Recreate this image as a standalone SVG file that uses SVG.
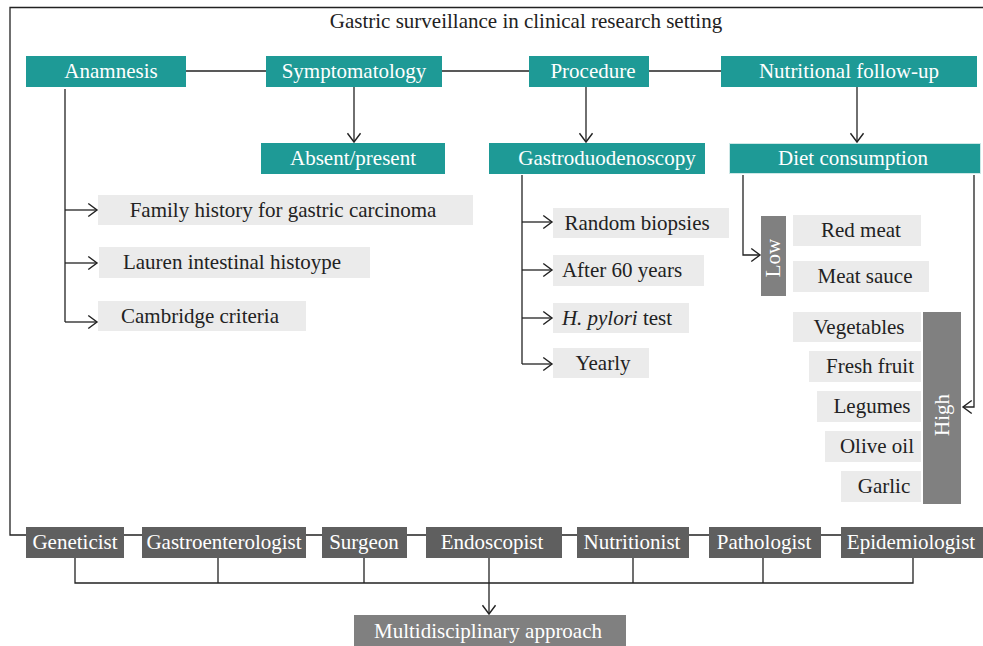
<svg xmlns="http://www.w3.org/2000/svg" width="983" height="646" viewBox="0 0 983 646">
<defs>
<marker id="arr" markerUnits="userSpaceOnUse" markerWidth="12" markerHeight="16" viewBox="-1 -7 11 14" refX="8" refY="0" orient="auto">
<path d="M0,-6 L8,0 L0,6" fill="none" stroke="#222" stroke-width="1.3"/>
</marker>
</defs>
<style>
text{font-family:"Liberation Serif","Times New Roman",serif;font-size:21px}
.teal{fill:#1e9a96}
.tt{fill:#ffffff;text-anchor:middle}
.item{fill:#ebebeb}
.it{fill:#222;text-anchor:middle}
.dark{fill:#5f5f5f}
.mid{fill:#808080}
.ln{fill:none;stroke:#222;stroke-width:1.3}
</style>
<rect width="983" height="646" fill="#ffffff"/>
<g id="connectors">
<path class="ln" d="M983,7.5 H10 V535 H841"/>
<path class="ln" d="M186,71 H721"/>
<path class="ln" d="M354,87 V142" marker-end="url(#arr)"/>
<path class="ln" d="M586,87 V142" marker-end="url(#arr)"/>
<path class="ln" d="M857,87 V142" marker-end="url(#arr)"/>
<path class="ln" d="M65,89 V322"/>
<path class="ln" d="M65,210 H97" marker-end="url(#arr)"/>
<path class="ln" d="M65,263 H97" marker-end="url(#arr)"/>
<path class="ln" d="M65,322 H97" marker-end="url(#arr)"/>
<path class="ln" d="M522,175 V364"/>
<path class="ln" d="M522,222 H552" marker-end="url(#arr)"/>
<path class="ln" d="M522,270 H552" marker-end="url(#arr)"/>
<path class="ln" d="M522,318 H552" marker-end="url(#arr)"/>
<path class="ln" d="M522,364 H552" marker-end="url(#arr)"/>
<path class="ln" d="M743,175 V255 H760" marker-end="url(#arr)"/>
<path class="ln" d="M974,175 V407 H963" marker-end="url(#arr)"/>
<path class="ln" d="M75,558 V583 H913 V558 M218,558 V583 M364,558 V583 M633,558 V583 M763,558 V583"/>
<path class="ln" d="M489,558 V614" marker-end="url(#arr)"/>
</g>
<g id="title"><text x="526" y="28" text-anchor="middle" fill="#222">Gastric surveillance in clinical research setting</text></g>
<g id="anamnesis"><rect class="teal" x="26" y="56" width="160" height="31"/><text class="tt" x="111" y="78">Anamnesis</text></g>
<g id="symptomatology"><rect class="teal" x="266" y="56" width="176" height="31"/><text class="tt" x="354" y="78">Symptomatology</text></g>
<g id="procedure"><rect class="teal" x="529" y="56" width="120" height="31"/><text class="tt" x="593" y="78">Procedure</text></g>
<g id="nutritional"><rect class="teal" x="721" y="56" width="256" height="31"/><text class="tt" x="849" y="78">Nutritional follow-up</text></g>
<g id="absent"><rect class="teal" x="261" y="143" width="184" height="31"/><text class="tt" x="353" y="165">Absent/present</text></g>
<g id="gastroduodenoscopy"><rect class="teal" x="489" y="143" width="216" height="31"/><text class="tt" x="607" y="165">Gastroduodenoscopy</text></g>
<g id="diet"><rect class="teal" x="729.5" y="143.5" width="251" height="30" stroke="#cde8e7" stroke-width="1"/><text class="tt" x="853" y="165">Diet consumption</text></g>
<g id="family"><rect class="item" x="98" y="195" width="375" height="30"/><text class="it" x="283" y="217">Family history for gastric carcinoma</text></g>
<g id="lauren"><rect class="item" x="99" y="247" width="271" height="31"/><text class="it" x="232" y="269">Lauren intestinal histoype</text></g>
<g id="cambridge"><rect class="item" x="98" y="301" width="208" height="30"/><text class="it" x="200" y="323">Cambridge criteria</text></g>
<g id="random"><rect class="item" x="553" y="208" width="176" height="30"/><text class="it" x="637" y="230">Random biopsies</text></g>
<g id="after60"><rect class="item" x="553" y="255" width="151" height="31"/><text class="it" x="622" y="277">After 60 years</text></g>
<g id="hpylori"><rect class="item" x="553" y="303" width="136" height="30"/><text class="it" x="617" y="325"><tspan font-style="italic">H. pylori</tspan> test</text></g>
<g id="yearly"><rect class="item" x="553" y="348" width="96" height="30"/><text class="it" x="603" y="370">Yearly</text></g>
<g id="low"><rect class="mid" x="761" y="216" width="25" height="80"/><text class="tt" transform="translate(780,258) rotate(-90)">Low</text></g>
<g id="redmeat"><rect class="item" x="793" y="215" width="128" height="31"/><text class="it" x="861" y="237">Red meat</text></g>
<g id="meatsauce"><rect class="item" x="793" y="261" width="136" height="31"/><text class="it" x="865" y="283">Meat sauce</text></g>
<g id="vegetables"><rect class="item" x="793" y="312" width="128" height="30"/><text class="it" x="859" y="334">Vegetables</text></g>
<g id="freshfruit"><rect class="item" x="809" y="351" width="112" height="31"/><text class="it" x="870" y="373">Fresh fruit</text></g>
<g id="legumes"><rect class="item" x="817" y="391" width="104" height="31"/><text class="it" x="872" y="413">Legumes</text></g>
<g id="oliveoil"><rect class="item" x="825" y="431" width="96" height="31"/><text class="it" x="877" y="453">Olive oil</text></g>
<g id="garlic"><rect class="item" x="841" y="471" width="80" height="31"/><text class="it" x="884" y="493">Garlic</text></g>
<g id="high"><rect class="mid" x="923" y="312" width="38" height="192"/><text class="tt" transform="translate(949,415) rotate(-90)">High</text></g>
<g id="geneticist"><rect class="dark" x="26" y="527" width="98" height="31"/><text class="tt" x="75" y="549">Geneticist</text></g>
<g id="gastroenterologist"><rect class="dark" x="142" y="527" width="164" height="31"/><text class="tt" x="224" y="549">Gastroenterologist</text></g>
<g id="surgeon"><rect class="dark" x="322" y="527" width="85" height="31"/><text class="tt" x="364" y="549">Surgeon</text></g>
<g id="endoscopist"><rect class="dark" x="426" y="527" width="136" height="31"/><text class="tt" x="492" y="549">Endoscopist</text></g>
<g id="nutritionist"><rect class="dark" x="577" y="527" width="112" height="31"/><text class="tt" x="632" y="549">Nutritionist</text></g>
<g id="pathologist"><rect class="dark" x="709" y="527" width="112" height="31"/><text class="tt" x="764" y="549">Pathologist</text></g>
<g id="epidemiologist"><rect class="dark" x="841" y="527" width="142" height="31"/><text class="tt" x="911" y="549">Epidemiologist</text></g>
<g id="multidisciplinary"><rect class="mid" x="354" y="615" width="272" height="31"/><text class="tt" x="488" y="638">Multidisciplinary approach</text></g>
</svg>
